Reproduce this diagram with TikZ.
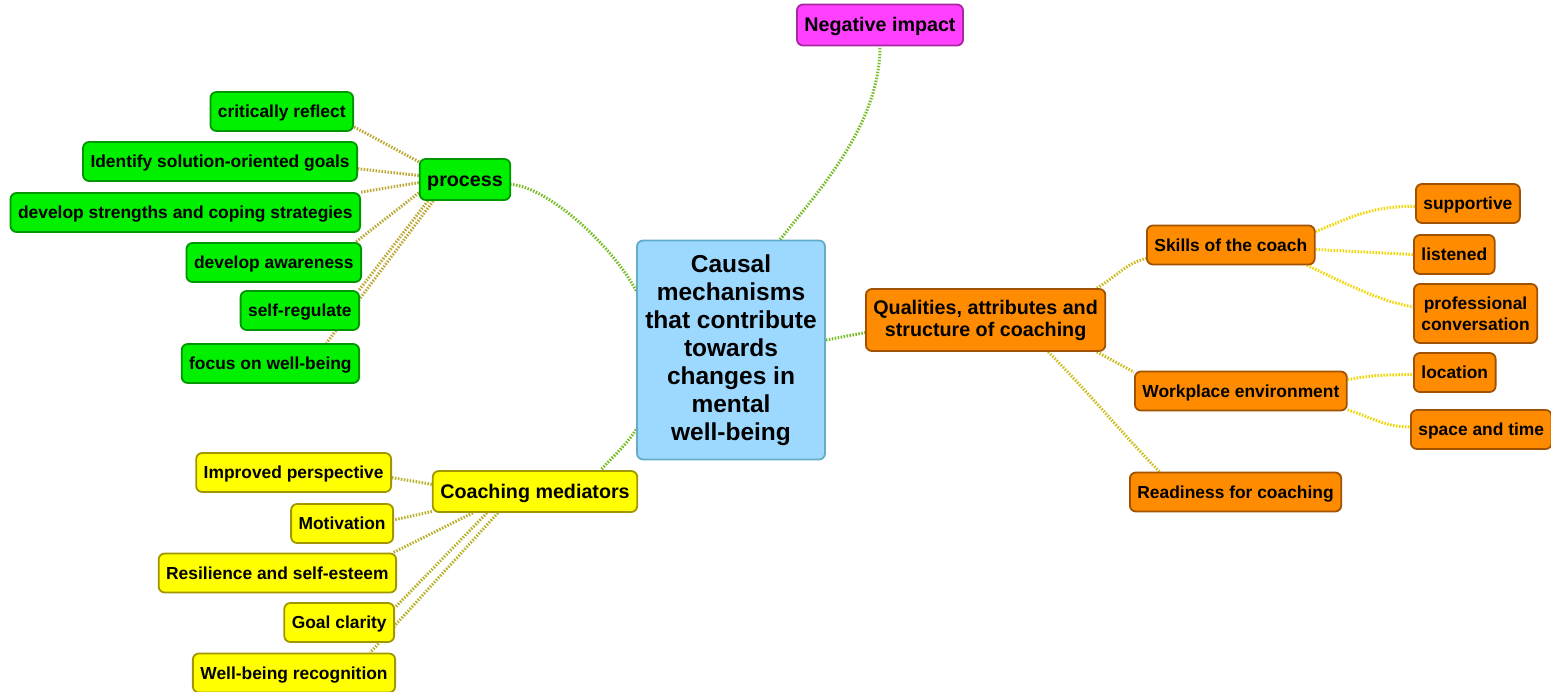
\documentclass[tikz,border=0pt]{standalone}
\usepackage{fontspec}
\setmainfont{Liberation Sans}
\usetikzlibrary{backgrounds}

% node colours
\definecolor{rootfill}{RGB}{157,217,255}
\definecolor{rootline}{RGB}{100,172,200}
\definecolor{magfill}{RGB}{255,64,255}
\definecolor{magline}{RGB}{168,40,160}
\definecolor{grnfill}{RGB}{0,240,0}
\definecolor{grnline}{RGB}{0,150,0}
\definecolor{yelfill}{RGB}{255,255,0}
\definecolor{yelline}{RGB}{160,150,0}
\definecolor{orgfill}{RGB}{255,140,0}
\definecolor{orgline}{RGB}{160,82,0}
% connector colours
\definecolor{rootedge}{RGB}{118,188,36}
\definecolor{grnedge}{RGB}{186,168,50}
\definecolor{yeledge}{RGB}{182,178,40}
\definecolor{orgedge}{RGB}{205,188,30}
\definecolor{orgedgetwo}{RGB}{240,215,0}

\begin{document}
\begin{tikzpicture}[x=1pt,y=-1pt,
  box/.style={draw, rounded corners=6pt, line width=1.8pt, text=black,
    inner xsep=7.5pt, inner ysep=0pt},
  lvone/.style={box, font=\bfseries\fontsize{19.7}{23}\selectfont,
    minimum height=41pt, text height=14pt, text depth=0pt},
  lvtwo/.style={box, font=\bfseries\fontsize{17.4}{21}\selectfont,
    minimum height=39pt, text height=12.5pt, text depth=0pt},
  lvtwomulti/.style={box, font=\bfseries\fontsize{17.4}{21}\selectfont,
    align=center, minimum height=59pt},
  rootbox/.style={box, fill=rootfill, draw=rootline,
    font=\bfseries\fontsize{24.5}{28}\selectfont, align=center,
    minimum width=188pt, minimum height=219pt, inner xsep=3pt},
  grn/.style={fill=grnfill, draw=grnline},
  yel/.style={fill=yelfill, draw=yelline},
  org/.style={fill=orgfill, draw=orgline},
  link/.style={line width=3pt, dash pattern=on 1.5pt off 1.5pt, line cap=butt},
  rootlink/.style={link, draw=rootedge},
  grnlink/.style={link, draw=grnedge},
  yellink/.style={link, draw=yeledge},
  orglink/.style={link, draw=orgedge},
  orglinktwo/.style={link, draw=orgedgetwo}
]
\useasboundingbox (0,0) rectangle (1551,692);

% central topic
\node[rootbox] (root) at (731,350)
  {Causal\\mechanisms\\that contribute\\towards\\changes in\\mental\\well-being};

% main branches
\node[lvone, fill=magfill, draw=magline] (neg) at (880,25) {Negative impact};
\node[lvone, grn] (process) at (465,179.5) {process};
\node[lvone, yel] (med) at (535,491.5) {Coaching mediators};
\node[box, org, align=center, minimum height=62pt,
  font=\bfseries\fontsize{19.7}{22}\selectfont, anchor=west] (qual) at (865,320)
  {Qualities, attributes and\\structure of coaching\vphantom{p}};

% process sub-topics
\node[lvtwo, grn, anchor=east] (crit) at (354,111.5) {critically reflect};
\node[lvtwo, grn, anchor=east] (ident) at (358,161.5) {Identify solution-oriented goals};
\node[lvtwo, grn, anchor=east] (strength) at (361,212.5) {develop strengths and coping strategies};
\node[lvtwo, grn, anchor=east] (aware) at (362,262.5) {develop awareness};
\node[lvtwo, grn, anchor=east] (selfreg) at (360,310.5) {self-regulate};
\node[lvtwo, grn, anchor=east] (focus) at (360,363.5) {focus on well-being};

% mediator sub-topics
\node[lvtwo, yel, anchor=east] (impr) at (392,472.5) {Improved perspective};
\node[lvtwo, yel, anchor=east] (motiv) at (394,523.5) {Motivation};
\node[lvtwo, yel, anchor=east] (resil) at (397,573) {Resilience and self-esteem};
\node[lvtwo, yel, anchor=east] (goal) at (395,622.5) {Goal clarity};
\node[lvtwo, yel, anchor=east] (wbr) at (396,673) {Well-being recognition};

% coaching qualities sub-topics
\node[lvtwo, org, anchor=west] (skills) at (1146,245) {Skills of the coach};
\node[lvtwo, org, anchor=west] (work) at (1134,391) {Workplace environment};
\node[lvtwo, org, anchor=west] (ready) at (1129,492) {Readiness for coaching};

\node[lvtwo, org, anchor=west] (supp) at (1415,203.5) {supportive};
\node[lvtwo, org, anchor=west] (listen) at (1413,254.5) {listened};
\node[lvtwomulti, org, anchor=west] (prof) at (1413,313.5) {professional\\conversation};
\node[lvtwo, org, anchor=west] (loc) at (1413,372.5) {location};
\node[lvtwo, org, anchor=west] (space) at (1410,429.5) {space and time};

\begin{scope}[on background layer]
  \fill[white] (0,0) rectangle (1551,692);

  % central links
  \draw[rootlink] (root.66) .. controls +(35,-45) and +(0,80) .. (neg.south);
  \draw[rootlink] (root.148) .. controls +(-22,-42) and +(40,4) .. (process.-6);
  \draw[rootlink] (root.220) .. controls +(-12,18) and +(12,-14) .. (med.18);
  \draw[rootlink] (root.6) -- (qual.186);

  % process links
  \draw[grnlink] (process.159) -- (crit.-12);
  \draw[grnlink] (process.175) -- (ident.-3);
  \draw[grnlink] (process.184) -- (strength.north east);
  \draw[grnlink] (process.196) -- (aware.14);
  \draw[grnlink] (process.210) -- (selfreg.19);
  \draw[grnlink] (process.214) -- (focus.20);

  % mediator links
  \draw[yellink] (med.176) -- (impr.-3);
  \draw[yellink] (med.191) -- (motiv.4);
  \draw[yellink] (med.199) -- (resil.10);
  \draw[yellink] (med.204.5) -- (goal.15);
  \draw[yellink] (med.210) -- (wbr.15);

  % coaching qualities links
  \draw[orglink] (qual.16.5) .. controls +(20,-12) and +(-20,5) .. (skills.189);
  \draw[orglink] (qual.-16.5) -- (work.170);
  \draw[orglink] (qual.-27.5) .. controls +(40,40) and +(-30,-30) .. (ready.165);

  \draw[orglinktwo] (skills.9) .. controls +(35,-14) and +(-45,0) .. (supp.183);
  \draw[orglinktwo] (skills.-3) -- (listen.west);
  \draw[orglinktwo] (skills.-15) .. controls +(35,16) and +(-35,-6) .. (prof.174);
  \draw[orglinktwo] (work.6) .. controls +(25,-5) and +(-25,0) .. (loc.183);
  \draw[orglinktwo] (work.-10.5) .. controls +(25,8) and +(-25,0) .. (space.178);
\end{scope}
\end{tikzpicture}
\end{document}
